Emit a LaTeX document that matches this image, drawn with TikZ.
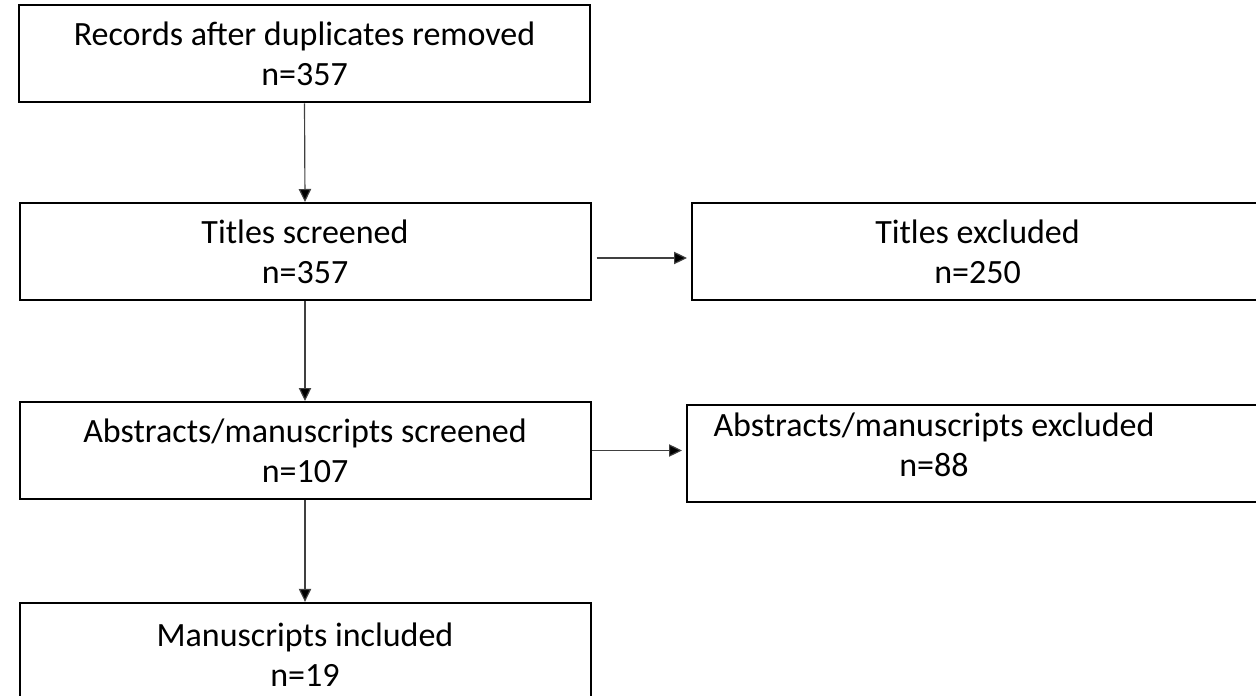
\documentclass[tikz,border=0pt]{standalone}
\usepackage{fontspec}
\setmainfont{Carlito}
\usetikzlibrary{arrows.meta,positioning,calc}
\newcommand{\flowfont}{\fontsize{20.4pt}{24pt}\selectfont}

\tikzset{
  box/.style={draw, line width=1.2pt, minimum width=342.6pt,
    minimum height=58.2pt, inner sep=0pt, align=center, font=\flowfont},
  boxtext/.style={inner sep=0pt, align=center, font=\flowfont},
  flow/.style={draw=black!75, line width=0.7pt,
    -{Triangle[length=7.8pt,width=7.4pt,fill=black]}},
}

\begin{document}
\begin{tikzpicture}[x=0.6pt, y=-0.6pt]
  % frame
  \useasboundingbox (0,0) rectangle (1256,696);
  \clip (0,0) rectangle (1256,696);

  % main column
  \node[box] (records) at (304.5,54) {Records after duplicates removed\\n=357};
  \node[box] (titles) at (305,251.5) {Titles screened\\n=357};
  \node[box] (abstracts) at (305,450.5) {Abstracts/manuscripts screened\\n=107};
  \node[box, minimum height=62pt] (included) at (305,654.5) {Manuscripts included\\n=19};

  % exclusions
  \node[box] (titlesout) at (977.5,252) {Titles excluded\\n=250};
  \node[box] (abstractsout) at (972.5,453.5) {};
  \node[boxtext] (abstractsout-txt) at (934,445) {Abstracts/manuscripts excluded\\n=88};

  % connectors
  \draw[flow] (records.south) -- (titles.north);
  \draw[flow] (titles.south) -- (abstracts.north);
  \draw[flow] (abstracts.south) -- (included.north);
  \draw[flow, shorten <=3pt, shorten >=2.4pt]
    ($(titles.east)+(0,6.5)$) -- ($(titles.east -| titlesout.west)+(0,6.5)$);
  \draw[flow, shorten >=2.4pt]
    (abstracts.east) -- (abstracts.east -| abstractsout.west);
\end{tikzpicture}
\end{document}
